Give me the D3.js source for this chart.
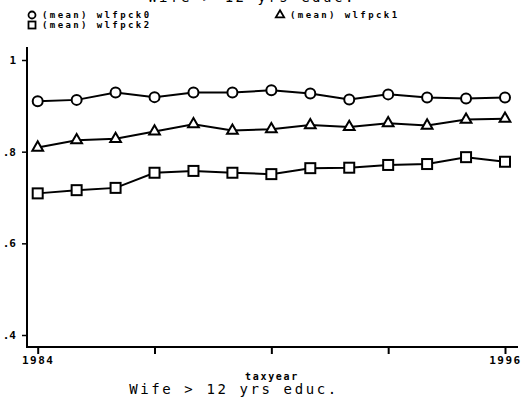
<!DOCTYPE html>
<html><head><meta charset="utf-8">
<script src="https://cdn.jsdelivr.net/npm/d3@7"></script>
<style>
html,body{margin:0;padding:0;background:#fff;}
svg{display:block;}
text{font-family:"DejaVu Sans Mono",monospace;fill:#000;}
</style></head><body>
<script>
const years = [1984,1985,1986,1987,1988,1989,1990,1991,1992,1993,1994,1995,1996];
const wlfpck0 = [0.910,0.913,0.929,0.919,0.929,0.929,0.934,0.927,0.914,0.925,0.918,0.916,0.918];
const wlfpck1 = [0.809,0.825,0.828,0.844,0.860,0.846,0.849,0.858,0.854,0.862,0.857,0.870,0.872];
const wlfpck2 = [0.709,0.716,0.721,0.754,0.758,0.754,0.751,0.764,0.765,0.771,0.773,0.788,0.778];
const yTicks = [0.4,0.6,0.8,1];
const yTickLabels = [".4",".6",".8","1"];
const xTicks = [1984,1987,1990,1993,1996];
const xTickLabels = ["1984","","","","1996"];
const legendLabels = ["(mean) wlfpck0","(mean) wlfpck1","(mean) wlfpck2"];
const title = "Wife > 12 yrs educ.";
const xTitle = "taxyear";

const W=527,H=403;
const svg=d3.select("body").append("svg").attr("width",W).attr("height",H);
const x=d3.scaleLinear().domain([1984,1996]).range([37.7,505]);
const y=d3.scaleLinear().domain([0.4,1]).range([335,60]);

// clipped top title (only its lower edge shows, as in the reference)
svg.append("text").attr("x",252).attr("y",1.5).attr("text-anchor","middle")
  .style("font-size","14px").style("letter-spacing","2.5px").text(title);

// axes
const gx=svg.append("g").attr("transform","translate(0,347)")
  .call(d3.axisBottom(x).tickValues(xTicks).tickFormat((d,i)=>xTickLabels[i]).tickSize(7).tickPadding(2).tickSizeOuter(0));
gx.select(".domain").remove();
gx.append("line").attr("x1",26).attr("x2",518).attr("y1",0).attr("y2",0).attr("stroke","#000").attr("stroke-width",2);
gx.selectAll(".tick line").attr("stroke","#000").attr("stroke-width",2);
gx.selectAll(".tick text").style("font-size","11px").style("font-weight","bold").style("letter-spacing","1.5px")
  .style("font-family","'DejaVu Sans Mono',monospace").attr("fill","#000");

const gy=svg.append("g").attr("transform","translate(27,0)")
  .call(d3.axisLeft(y).tickValues(yTicks).tickFormat((d,i)=>yTickLabels[i]).tickSize(5).tickPadding(6).tickSizeOuter(0));
gy.select(".domain").remove();
gy.append("line").attr("x1",0).attr("x2",0).attr("y1",47).attr("y2",348).attr("stroke","#000").attr("stroke-width",2);
gy.selectAll(".tick line").attr("stroke","#000").attr("stroke-width",1.5);
gy.selectAll(".tick text").style("font-size","11px").style("font-weight","bold")
  .style("font-family","'DejaVu Sans Mono',monospace").attr("fill","#000");

// series
const series=[{v:wlfpck0,m:"circle"},{v:wlfpck1,m:"triangle"},{v:wlfpck2,m:"square"}];
const line=d3.line().x((d,i)=>x(years[i])).y(d=>y(d));
function marker(g,type,cx,cy){
  if(type==="circle") g.append("circle").attr("cx",cx).attr("cy",cy).attr("r",5);
  else if(type==="square") g.append("rect").attr("x",cx-5).attr("y",cy-5).attr("width",10).attr("height",10);
  else g.append("path").attr("d",d3.symbol().type(d3.symbolTriangle).size(50)()).attr("transform",`translate(${cx},${cy})`);
}
series.forEach(s=>{
  svg.append("path").datum(s.v).attr("d",line).attr("fill","none").attr("stroke","#000").attr("stroke-width",2);
  const g=svg.append("g").attr("fill","#fff").attr("stroke","#000").attr("stroke-width",2);
  s.v.forEach((d,i)=>marker(g,s.m,x(years[i]),y(d)));
});

// legend
const lg=svg.append("g").attr("fill","#fff").attr("stroke","#000").attr("stroke-width",1.8);
const legPos=[[32,15],[280,15],[32,25]];
legPos.forEach((p,i)=>{
  const t=series[i].m;
  if(t==="circle") lg.append("circle").attr("cx",p[0]).attr("cy",p[1]).attr("r",3.5);
  else if(t==="square") lg.append("rect").attr("x",p[0]-3.5).attr("y",p[1]-3.5).attr("width",7).attr("height",7);
  else lg.append("path").attr("d",d3.symbol().type(d3.symbolTriangle).size(30)()).attr("transform",`translate(${p[0]},${p[1]})`);
  svg.append("text").attr("x",p[0]+10).attr("y",p[1]+3.2).style("font-size","9px").style("font-weight","bold")
    .style("letter-spacing","2.4px").text(legendLabels[i]);
});

// axis title and caption
svg.append("text").attr("x",272).attr("y",380).attr("text-anchor","middle").style("font-size","10px")
  .style("font-weight","bold").style("letter-spacing","1.7px").text(xTitle);
svg.append("text").attr("x",234).attr("y",394).attr("text-anchor","middle").style("font-size","14px")
  .style("letter-spacing","2.6px").text(title);
</script>
</body></html>
